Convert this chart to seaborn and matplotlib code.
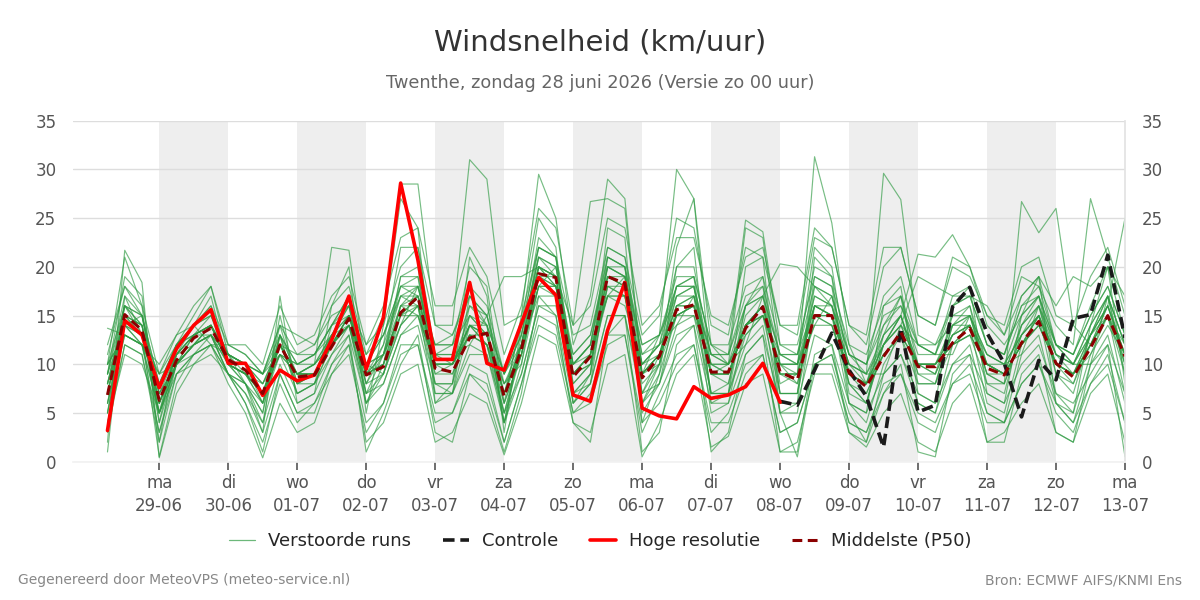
import numpy as np
import pandas as pd
import matplotlib
matplotlib.use("Agg")
import matplotlib.pyplot as plt
from matplotlib.lines import Line2D
import seaborn as sns

# ---------------- data ----------------
run_start = "2026-06-28 06:00"
n_steps = 60
control_start = "2026-07-08 00:00"

day_names = ["ma", "di", "wo", "do", "vr", "za", "zo"]

title = "Windsnelheid (km/uur)"
subtitle = "Twenthe, zondag 28 juni 2026 (Versie zo 00 uur)"
footer_left = "Gegenereerd door MeteoVPS (meteo-service.nl)"
footer_right = "Bron: ECMWF AIFS/KNMI Ens"

hres = [3.2, 14.5, 13.0, 7.6, 11.6, 14.0, 15.6, 10.1, 10.1, 6.8,
        9.4, 8.3, 8.9, 12.5, 17.0, 9.5, 14.8, 28.6, 20.7, 10.5,
        10.5, 18.4, 10.1, 9.4, 14.2, 18.9, 17.1, 6.85, 6.2, 13.5,
        18.4, 5.5, 4.7, 4.4, 7.7, 6.5, 6.85, 7.7, 10.1, 6.1]

control = [6.2, 5.8, 9.4, 13.2, 9.4, 6.7, 1.5, 13.7, 5.1, 5.8,
           15.9, 17.9, 13.2, 10.1, 4.6, 10.4, 8.4, 14.7, 15.1, 21.2, 12.7]

p50 = [6.85, 15.1, 13.5, 6.3, 10.4, 12.7, 13.7, 10.5, 9.4, 7.0,
       12.0, 8.7, 8.9, 11.8, 14.7, 8.9, 9.75, 15.3, 16.9, 9.6,
       9.2, 12.7, 13.2, 6.7, 11.5, 19.3, 18.9, 8.7, 10.8, 19.0,
       18.3, 8.6, 10.8, 15.6, 16.1, 9.2, 9.2, 13.7, 15.9, 9.2,
       8.4, 15.0, 15.0, 9.1, 7.7, 10.8, 13.3, 9.75, 9.75, 12.2,
       13.7, 9.6, 8.9, 12.2, 14.4, 10.1, 8.7, 11.7, 15.0, 10.8]

m01 = [8, 16, 14, 5, 11, 13, 15, 10, 9, 6, 13, 9, 10, 13, 16, 8, 11, 18, 17, 9,
       10, 14, 12, 5, 12, 21, 19, 9, 11, 20, 19, 7, 11, 17, 18, 9, 8, 15, 17, 8,
       9, 17, 16, 8, 6, 12, 15, 10, 9, 13, 15, 9, 8, 13, 15, 10, 9, 12, 16, 11]
m02 = [10, 21, 16, 2, 12, 15, 18, 11, 8, 3, 17, 6, 7, 16, 20, 5, 14, 27, 24, 6,
       8, 21, 17, 3, 14, 25, 22, 6, 9, 24, 23, 4, 9, 20, 22, 6, 7, 20, 21, 5,
       6, 21, 19, 6, 5, 16, 18, 7, 6, 16, 18, 7, 6, 15, 19, 6, 5, 14, 20, 8]
m03 = [3, 12, 11, 2, 9, 10, 11, 9, 6, 2, 8, 4, 6, 9, 11, 3, 6, 12, 12, 4,
       5, 9, 8, 2, 8, 15, 14, 5, 7, 13, 13, 3, 7, 11, 12, 3, 5, 10, 11, 3,
       4, 10, 11, 4, 3, 7, 9, 5, 4, 8, 10, 5, 4, 8, 10, 6, 4, 8, 11, 4]
m04 = [6, 14, 15, 7, 10, 12, 13, 11, 10, 7, 11, 10, 11, 14, 15, 10, 9, 14, 18, 11,
       11, 12, 15, 8, 10, 18, 20, 10, 12, 17, 19, 10, 12, 14, 17, 11, 10, 12, 17, 11,
       10, 14, 17, 11, 9, 9, 14, 12, 11, 11, 15, 11, 10, 11, 16, 12, 10, 10, 17, 12]
m05 = [10, 13, 12, 10, 13, 14, 12, 12, 11, 9, 14, 13, 12, 15, 16, 12, 14, 20, 22, 14,
       14, 31, 29, 14, 15, 22, 21, 13, 14, 22, 21, 13, 15, 25, 24, 14, 13, 22, 21, 14,
       13, 23, 22, 14, 12, 20, 22, 15, 14, 20, 19, 15, 13, 19, 18, 14, 12, 27, 21, 15]
m06 = [1, 17, 13, 0.5, 8, 11, 13, 9, 6, 1, 9, 5, 5, 10, 13, 1, 5, 10, 13, 3,
       2, 9, 7, 1, 7, 17, 15, 4, 2, 13, 15, 1, 3, 12, 14, 1, 3, 11, 13, 1,
       1, 11, 12, 3, 2, 7, 10, 1, 0.5, 9, 11, 2, 2, 9, 11, 3, 2, 10, 12, 0.5]
m07 = [9, 19, 17, 4, 12, 14, 17, 10, 8, 5, 15, 8, 8, 14, 17, 6, 10, 19, 20, 7,
       7, 17, 14, 4, 13, 23, 21, 7, 9, 21, 20, 6, 10, 18, 19, 7, 7, 16, 19, 7,
       7, 19, 18, 7, 6, 13, 17, 8, 8, 14, 16, 8, 7, 14, 17, 9, 7, 13, 17, 9]
m08 = [5, 13, 12, 8, 11, 12, 14, 10, 9, 8, 11, 9, 10, 12, 15, 10, 11, 16, 15, 10,
       10, 13, 12, 7, 11, 19, 18, 9, 11, 18, 17, 9, 11, 15, 16, 10, 9, 14, 15, 10,
       8, 15, 14, 9, 8, 11, 13, 10, 10, 12, 13, 10, 9, 12, 14, 10, 9, 11, 14, 11]
m09 = [8, 15, 14, 6, 10, 13, 14, 11, 10, 8, 12, 9, 9, 12, 14, 9, 12, 17, 16, 12,
       12, 15, 14, 9, 14, 20, 18, 10, 12, 20, 19, 11, 13, 17, 17, 11, 10, 14, 15, 11,
       11, 16, 15, 10, 9, 29.6, 26.9, 13, 12, 14, 14, 11, 10, 13, 15, 11, 10, 13, 15, 12]
m10 = [7, 16, 13, 5, 10, 12, 14, 10, 9, 6, 12, 8, 9, 13, 15, 8, 12, 22, 22, 11,
       12, 20, 18, 6, 15, 29.5, 25, 12, 17, 29, 27, 9, 13, 30, 27, 12, 10, 24, 23, 10,
       10, 22, 20, 9, 8, 14, 17, 10, 9, 15, 16, 10, 9, 14, 16, 10, 9, 13, 16, 11]
m11 = [6, 15, 14, 6, 11, 13, 14, 10, 9, 7, 12, 9, 9, 12, 15, 9, 10, 16, 18, 10,
       9, 14, 13, 6, 11, 20, 19, 9, 10, 19, 18, 9, 11, 16, 16, 9, 9, 14, 16, 9,
       9, 31.3, 24.5, 12, 8, 12, 15, 9, 9, 13, 14, 9, 9, 12, 15, 10, 8, 12, 15, 10]
m12 = [4, 11, 10, 5, 9, 11, 12, 9, 7, 4, 10, 6, 7, 11, 13, 6, 8, 13, 14, 7,
       7, 11, 11, 4, 9, 16, 15, 6, 8, 15, 15, 6, 8, 13, 14, 6, 6, 11, 13, 6,
       6, 13, 12, 6, 5, 9, 11, 7, 6, 10, 11, 7, 6, 10, 12, 7, 6, 9, 12, 7]
m13 = [12, 18, 15, 8, 12, 14, 16, 12, 11, 9, 14, 11, 12, 16, 18, 11, 15, 28.5, 28.5, 14,
       13, 18, 16, 9, 13, 21, 20, 11, 13, 21, 20, 12, 13, 18, 19, 12, 11, 17, 18, 11,
       11, 18, 17, 11, 10, 15, 16, 12, 11, 16, 17, 12, 11, 16, 18, 12, 11, 15, 18, 13]
m14 = [9, 14, 13, 9, 10, 11, 12, 11, 10, 8, 12, 9, 10, 22, 21.7, 9, 11, 15, 17, 10,
       10, 14, 13, 8, 12, 18, 17, 9, 10, 17, 17, 10, 12, 15, 16, 10, 9, 14, 16, 10,
       10, 16, 16, 10, 9, 13, 15, 21.3, 21, 23.3, 20, 14, 12, 15, 17, 12, 10, 14, 17, 12]
m15 = [5, 14, 12, 3, 10, 12, 13, 9, 8, 5, 13, 7, 8, 12, 14, 7, 9, 15, 16, 8,
       8, 15, 13, 5, 11, 19, 18, 7, 9, 18, 17, 6, 9, 15, 16, 7, 7, 13, 15, 7,
       7, 15, 14, 8, 7, 11, 13, 8, 8, 12, 13, 8, 8, 26.7, 23.5, 26, 14, 12, 15, 9]
m16 = [13.7, 13, 12, 9, 12, 13, 13, 11, 10, 9, 11, 10, 10, 13, 14, 10, 11, 15, 15, 10,
       10, 14, 14, 9, 12, 17, 17, 10, 11, 17, 16, 10, 11, 15, 15, 10, 10, 14, 15, 10,
       10, 15, 15, 10, 9, 12, 14, 10, 10, 13, 14, 10, 10, 13, 15, 11, 10, 13, 16, 25]
m17 = [2, 21.7, 18.4, 0.4, 7, 10, 12, 8, 5, 0.4, 6, 3, 4, 9, 12, 2, 4, 9, 10, 2,
       3, 7, 6, 0.7, 6, 13, 12, 4, 3, 10, 11, 0.5, 4, 9, 11, 1.5, 2.6, 8, 9, 1,
       2, 9, 9, 3, 1.5, 5, 7, 2, 1, 6, 8, 2, 3, 6, 8, 3, 2, 7, 9, 2]
m18 = [9, 16, 15, 6, 11, 14, 15, 11, 10, 7, 13, 10, 11, 14, 17, 10, 13, 18, 19, 11,
       11, 16, 15, 7, 14, 22, 21, 10, 12, 22, 21, 10, 12, 20, 20, 11, 11, 24.8, 23.6, 12,
       11, 20, 19, 11, 10, 17, 19, 12, 11, 17, 18, 12, 11, 17, 19, 12, 11, 16, 20, 13]
m19 = [7, 15, 13, 7, 11, 13, 14, 10, 9, 7, 12, 9, 9, 12, 15, 9, 10, 15, 17, 10,
       10, 13, 13, 7, 12, 19, 19, 9, 11, 19, 18, 9, 11, 16, 17, 9, 9, 14, 16, 9,
       9, 16, 15, 9, 8, 12, 14, 19, 18, 17, 17, 16, 13, 17, 19, 16, 19, 18, 20, 17]
m20 = [8, 14, 13, 7, 10, 12, 13, 10, 9, 7, 12, 8, 9, 12, 14, 8, 9, 14, 16, 9,
       9, 13, 12, 6, 11, 18, 18, 8, 10, 18, 18, 8, 10, 22, 27, 9, 9, 14, 16, 9,
       8, 15, 15, 9, 7, 11, 13, 10, 10, 12, 14, 10, 9, 12, 14, 10, 9, 12, 15, 11]
m21 = [6, 13, 12, 5, 10, 12, 13, 10, 8, 6, 11, 7, 8, 11, 14, 7, 8, 13, 15, 8,
       7, 12, 11, 5, 9, 16, 16, 7, 8, 15, 15, 7, 8, 14, 15, 7, 7, 12, 14, 5,
       0.5, 10, 11, 5, 2, 9, 11, 6, 5, 10, 12, 5, 4, 11, 13, 6, 4, 10, 13, 6]
m22 = [7, 15, 14, 6, 11, 13, 14, 10, 9, 7, 12, 9, 9, 12, 15, 9, 10, 16, 17, 10,
       10, 14, 13, 7, 12, 20, 19, 14, 26.7, 27, 26, 9, 10, 15, 16, 9, 9, 14, 16, 9,
       9, 16, 15, 9, 8, 12, 14, 10, 10, 13, 14, 10, 9, 12, 15, 10, 9, 12, 16, 10]
m23 = [8, 15, 13, 6, 10, 12, 14, 10, 9, 7, 12, 9, 9, 12, 15, 9, 11, 17, 18, 11,
       10, 15, 13, 7, 12, 20, 19, 9, 11, 19, 19, 9, 11, 18, 18, 10, 10, 16, 17, 20.3,
       20, 18, 16, 10, 8, 13, 15, 10, 10, 14, 15, 10, 9, 14, 16, 11, 9, 13, 16, 11]
m24 = [4, 12, 11, 3, 9, 11, 12, 9, 7, 3, 9, 5, 6, 10, 12, 4, 6, 11, 12, 5,
       5, 10, 9, 2, 8, 14, 13, 5, 6, 12, 13, 4, 6, 10, 12, 4, 4, 9, 11, 3,
       4, 10, 10, 4, 3, 8, 9, 4, 3, 8, 9, 4, 4, 8, 10, 5, 3, 8, 10, 4]
m25 = [11, 18, 16, 9, 13, 16, 18, 12, 12, 10, 16, 12, 13, 17, 19, 12, 16, 23, 24, 16,
       16, 22, 19, 11, 16, 26, 24, 14, 16, 25, 24, 14, 16, 23, 23, 15, 14, 21, 22, 14,
       14, 24, 22, 14, 13, 22, 22, 15, 14, 21, 20, 15, 14, 20, 21, 15, 14, 19, 22, 16]
m26 = [10, 13, 12, 8, 12, 13, 14, 11, 10, 9, 12, 11, 11, 13, 15, 11, 13, 17, 17, 12,
       13, 17, 15, 19, 19, 20, 18, 11, 13, 20, 19, 12, 13, 19, 19, 12, 12, 18, 19, 12,
       12, 19, 18, 12, 11, 16, 17, 12, 12, 16, 17, 12, 11, 16, 17, 12, 11, 15, 18, 13]
m27 = [9, 17, 15, 5, 12, 14, 16, 10, 10, 6, 14, 8, 9, 13, 16, 7, 11, 19, 19, 8,
       8, 16, 14, 4, 12, 22, 21, 8, 10, 20, 20, 7, 10, 17, 18, 7, 8, 16, 18, 7,
       7, 18, 17, 8, 6, 12, 15, 9, 8, 14, 15, 9, 8, 13, 16, 9, 8, 13, 17, 10]
m28 = [7, 14, 12, 5, 10, 13, 14, 11, 9, 7, 11, 9, 10, 12, 14, 9, 10, 14, 16, 10,
       10, 13, 12, 8, 11, 18, 18, 9, 11, 17, 17, 9, 11, 16, 16, 9, 10, 13, 15, 10,
       9, 14, 14, 9, 8, 11, 13, 10, 10, 12, 13, 10, 9, 12, 14, 10, 9, 12, 15, 11]
m29 = [5, 16, 14, 4, 10, 12, 13, 9, 8, 4, 13, 7, 8, 12, 14, 6, 9, 16, 16, 6,
       7, 14, 12, 4, 10, 20, 19, 6, 8, 19, 18, 5, 8, 16, 17, 5, 6, 14, 16, 5,
       5, 16, 15, 6, 4, 10, 13, 6, 5, 12, 14, 6, 5, 12, 15, 7, 5, 11, 15, 7]
m30 = [10, 16, 15, 8, 12, 14, 15, 11, 10, 9, 13, 10, 11, 14, 16, 10, 13, 18, 18, 12,
       12, 17, 15, 9, 13, 21, 20, 10, 12, 21, 20, 11, 12, 18, 18, 11, 11, 16, 17, 11,
       10, 17, 16, 11, 10, 14, 16, 11, 11, 15, 15, 11, 10, 15, 17, 11, 10, 14, 17, 12]

members = [m01, m02, m03, m04, m05, m06, m07, m08, m09, m10,
           m11, m12, m13, m14, m15, m16, m17, m18, m19, m20,
           m21, m22, m23, m24, m25, m26, m27, m28, m29, m30]

# ---------------- frames ----------------
times = pd.date_range(run_start, periods=n_steps, freq="6h")
for i, m in enumerate(members):
    assert len(m) == n_steps, (i + 1, len(m))

df_runs = pd.concat(
    [pd.DataFrame({"time": times, "wind": m, "run": k}) for k, m in enumerate(members)],
    ignore_index=True)
df_hres = pd.DataFrame({"time": times[:len(hres)], "wind": hres})
df_ctrl = pd.DataFrame({"time": pd.date_range(control_start, periods=len(control), freq="6h"),
                        "wind": control})
df_p50 = pd.DataFrame({"time": times, "wind": p50})

# ---------------- style ----------------
sns.set_theme(style="white")
plt.rcParams["font.family"] = ["DejaVu Sans"]

fig = plt.figure(figsize=(12, 6), dpi=100)
ax = fig.add_axes([73 / 1200, 1 - 461.7 / 600, (1125 - 73) / 1200, (461.7 - 120.7) / 600])

green = "#2e9a42"
sns.lineplot(data=df_runs, x="time", y="wind", units="run", estimator=None,
             color=green, lw=0.85, alpha=0.65, ax=ax, legend=False)
sns.lineplot(data=df_ctrl, x="time", y="wind", color="#1a1a1a", lw=2.6,
             ax=ax, legend=False, linestyle=(0, (3.2, 1.6)))
sns.lineplot(data=df_hres, x="time", y="wind", color="#ff0000", lw=2.6, ax=ax, legend=False)
sns.lineplot(data=df_p50, x="time", y="wind", color="#8b0000", lw=2.2, ax=ax,
             legend=False, linestyle=(0, (3.2, 1.8)))

# shaded alternate days
day0 = pd.Timestamp("2026-06-28")
x_left = pd.Timestamp(run_start) - pd.Timedelta(hours=12)
x_right = times[-1]
for d in range(1, 15, 2):
    ax.axvspan(day0 + pd.Timedelta(days=d), day0 + pd.Timedelta(days=d + 1),
               color="#eeeeee", zorder=0, lw=0)

ax.set_xlim(x_left, x_right)
ax.set_ylim(0, 35)
ax.set_yticks(np.arange(0, 36, 5))

tick_days = [day0 + pd.Timedelta(days=d) for d in range(1, 16)]
tick_labels = [f"{day_names[t.weekday()]}\n{t.day:02d}-{t.month:02d}" for t in tick_days]
ax.set_xticks(tick_days)
ax.set_xticklabels(tick_labels, linespacing=1.35)

ax.set_xlabel("")
ax.set_ylabel("")
ax.grid(axis="y", color="#dddddd", lw=1)
ax.grid(axis="x", visible=False)
ax.set_axisbelow(True)
for s in ["top", "left"]:
    ax.spines[s].set_visible(False)
ax.spines["right"].set_color("#e3e3e3")
ax.spines["bottom"].set_color("#f2f2f2")

ax.tick_params(axis="x", bottom=True, length=6, width=1.2, color="#555555",
               labelsize=12, labelcolor="#555555", pad=3)
ax.tick_params(axis="y", left=False, right=False, labelleft=True, labelright=True,
               labelsize=12, labelcolor="#555555", pad=6)

fig.text(0.5, 1 - 42 / 600, title, ha="center", va="center", fontsize=21, color="#333333")
fig.text(0.5, 1 - 83 / 600, subtitle, ha="center", va="center", fontsize=12.7, color="#666666")

handles = [
    Line2D([], [], color=green, lw=0.9, alpha=0.7),
    Line2D([], [], color="#1a1a1a", lw=2.6, linestyle=(0, (3.2, 1.6))),
    Line2D([], [], color="#ff0000", lw=2.6),
    Line2D([], [], color="#8b0000", lw=2.2, linestyle=(0, (3.2, 1.8))),
]
labels = ["Verstoorde runs", "Controle", "Hoge resolutie", "Middelste (P50)"]
fig.legend(handles, labels, loc="center", bbox_to_anchor=(0.5, 1 - 541 / 600), ncol=4,
           frameon=False, fontsize=13, handlelength=1.45, columnspacing=1.75,
           handletextpad=0.72)

fig.text(18 / 1200, 1 - 580 / 600, footer_left, ha="left", va="center", fontsize=10, color="#888888")
fig.text(1182 / 1200, 1 - 580 / 600, footer_right, ha="right", va="center", fontsize=10, color="#888888")

fig.savefig("out.png", dpi=100)
